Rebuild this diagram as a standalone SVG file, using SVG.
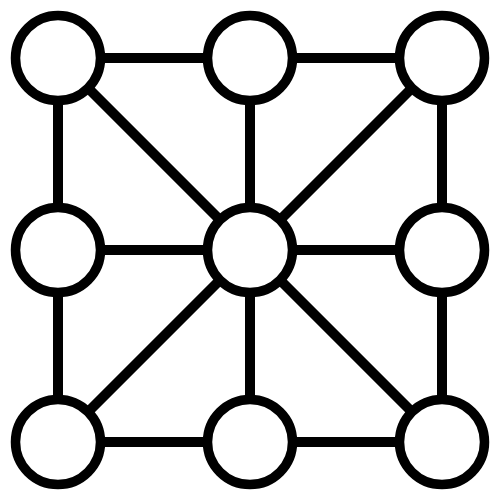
<svg xmlns="http://www.w3.org/2000/svg" width="500" height="500" viewBox="0 0 500 500">
<style>
.e{stroke:#000;stroke-width:10;fill:none}
.n{stroke:#000;stroke-width:9.5;fill:#fff}
</style>
<rect width="500" height="500" fill="#fff"/>
<g id="connectors">
<line class="e" x1="58" y1="58" x2="442" y2="58"/>
<line class="e" x1="58" y1="250" x2="442" y2="250"/>
<line class="e" x1="58" y1="442" x2="442" y2="442"/>
<line class="e" x1="58" y1="58" x2="58" y2="442"/>
<line class="e" x1="250" y1="58" x2="250" y2="442"/>
<line class="e" x1="442" y1="58" x2="442" y2="442"/>
<line class="e" x1="58" y1="58" x2="442" y2="442"/>
<line class="e" x1="442" y1="58" x2="58" y2="442"/>
</g>
<g id="n1"><circle class="n" cx="58" cy="58" r="42.5"/></g>
<g id="n2"><circle class="n" cx="250" cy="58" r="42.5"/></g>
<g id="n3"><circle class="n" cx="442" cy="58" r="42.5"/></g>
<g id="n4"><circle class="n" cx="58" cy="250" r="42.5"/></g>
<g id="n5"><circle class="n" cx="250" cy="250" r="42.5"/></g>
<g id="n6"><circle class="n" cx="442" cy="250" r="42.5"/></g>
<g id="n7"><circle class="n" cx="58" cy="442" r="42.5"/></g>
<g id="n8"><circle class="n" cx="250" cy="442" r="42.5"/></g>
<g id="n9"><circle class="n" cx="442" cy="442" r="42.5"/></g>
</svg>
